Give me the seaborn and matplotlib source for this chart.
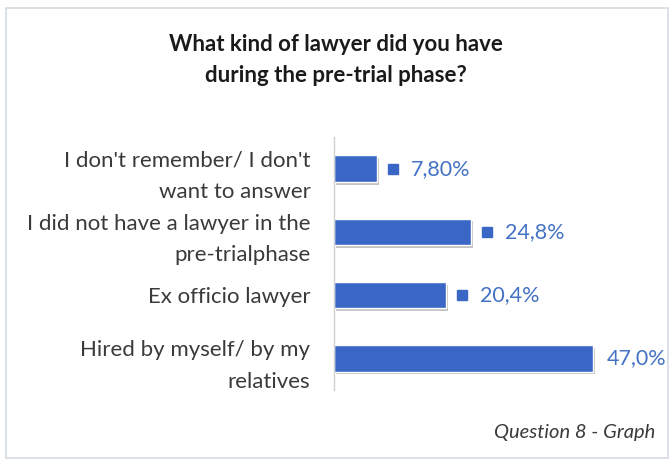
import matplotlib
matplotlib.use("Agg")
import matplotlib.pyplot as plt
import matplotlib.patheffects as pe
from matplotlib.patches import Rectangle
import seaborn as sns
import pandas as pd

categories = [
    "I don't remember/ I don't\nwant to answer",
    "I did not have a lawyer in the\npre-trialphase",
    "Ex officio lawyer",
    "Hired by myself/ by my\nrelatives",
]
values = [7.80, 24.8, 20.4, 47.0]
value_labels = ["7,80%", "24,8%", "20,4%", "47,0%"]
title = "What kind of lawyer did you have\nduring the pre-trial phase?"
footer = "Question 8 - Graph"

df = pd.DataFrame({"answer": categories, "share": values})

sns.set_theme(style="white")
plt.rcParams["font.family"] = ["Lato", "DejaVu Sans"]

bar_color = "#3a66c6"
label_color = "#4472c4"
text_color = "#3a3a3a"

W, H = 672, 465
fig = plt.figure(figsize=(W / 100, H / 100), dpi=100)
fig.patch.set_facecolor("white")

# outer frame
fig.patches.append(Rectangle((6 / W, 1 - 458 / H), 662 / W, 450 / H,
                             transform=fig.transFigure, fill=False,
                             edgecolor="#d5dbe3", linewidth=1.2))

ax = fig.add_axes([334 / W, 1 - 390 / H, 275.5 / W, 253 / H])
sns.barplot(data=df, y="answer", x="share", orient="h", color=bar_color,
            saturation=1, width=0.42, ax=ax)
for p in ax.patches:
    p.set_path_effects([pe.SimplePatchShadow(offset=(1.5, -2), alpha=0.35,
                                             shadow_rgbFace="#555555"),
                        pe.Normal()])

ax.set_xlim(0, 50)
ax.set_ylim(3.5, -0.5)
ax.set_xlabel("")
ax.set_ylabel("")
ax.set_xticks([])
for s in ["top", "right", "bottom"]:
    ax.spines[s].set_visible(False)
ax.spines["left"].set_color("#d0d0d0")
ax.spines["left"].set_linewidth(1.0)
ax.tick_params(axis="y", length=0, pad=17)
ax.set_yticks(range(len(categories)))
ax.set_yticklabels(categories, fontsize=16, color=text_color,
                   linespacing=1.7, ha="right")

# value labels with key squares
px = 50 / 275.5
vmax = max(values)
for i, (v, lab) in enumerate(zip(values, value_labels)):
    if v < vmax:
        ax.plot(v + 16 * px, i, marker="s", markersize=7, color=bar_color,
                linestyle="none", clip_on=False)
        ax.text(v + 34 * px, i, lab, va="center", ha="left", fontsize=15.5,
                color=label_color)
    else:
        ax.text(v + 14 * px, i, lab, va="center", ha="left", fontsize=15.5,
                color=label_color)

fig.text(0.5, 1 - 60 / H, title, ha="center", va="center", fontsize=16,
         fontweight="bold", color="#1a1a1a", linespacing=1.55)
fig.text(655 / W, 1 - 432 / H, footer, ha="right", va="center",
         fontsize=14.5, style="italic", color=text_color)

fig.savefig("out.png", dpi=100)
